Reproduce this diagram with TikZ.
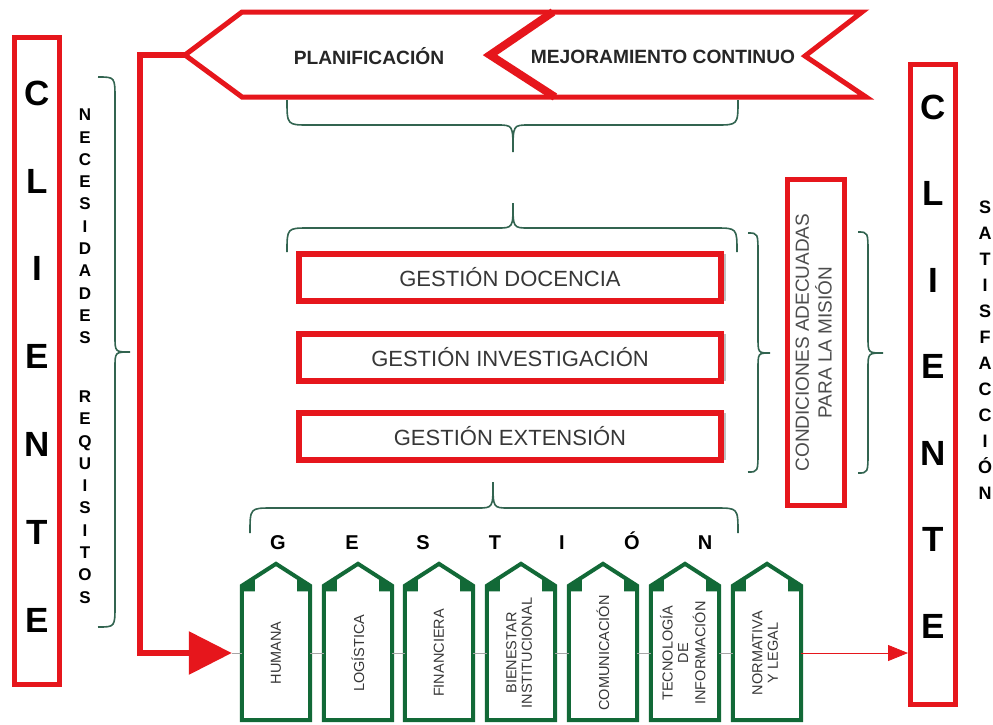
\documentclass[tikz,border=0pt]{standalone}
\usepackage{fontspec}
\setmainfont{Liberation Sans}
\usetikzlibrary{arrows.meta,shadows,calc}
\definecolor{cred}{RGB}{230,22,28}
\definecolor{cgreen}{RGB}{18,105,55}
\definecolor{cbrace}{RGB}{50,100,80}
\definecolor{ctext}{RGB}{55,55,55}
\newcommand{\myHbrace}[6]{% x1 x2 y0 ym xt yt
  \draw[bracestyle] (#1,#3) .. controls (#1,#4) .. (#1+22,#4) -- (#5-16,#4) .. controls (#5,#4) .. (#5,#6) .. controls (#5,#4) .. (#5+16,#4) -- (#2-22,#4) .. controls (#2,#4) .. (#2,#3);}
\newcommand{\myVbrace}[6]{% y1 y2 x0 xm yt xt
  \draw[bracestyle] (#3,#1) .. controls (#4,#1) .. (#4,#1+22) -- (#4,#5-16) .. controls (#4,#5) .. (#6,#5) .. controls (#4,#5) .. (#4,#5+16) -- (#4,#2-22) .. controls (#4,#2) .. (#3,#2);}
\tikzset{
  bracestyle/.style={draw=cbrace, line width=1.6pt},
  redline/.style={draw=cred, line width=5pt, line join=miter},
  clbox/.style={draw=cred, line width=5pt, minimum width=45pt, inner sep=0pt},
  clletters/.style={align=center, inner sep=0pt, text=black},
  vtext/.style={align=center, inner sep=0pt, text=black, font=\fontsize{17}{22.3}\selectfont\bfseries},
  bannertext/.style={inner sep=0pt, text=black!85, font=\fontsize{19.2}{21}\selectfont\bfseries},
  gbox/.style={draw=cred, line width=6pt, fill=white, minimum width=422pt, minimum height=47pt, inner sep=0pt,
     drop shadow={shadow xshift=5pt, shadow yshift=0pt, fill=gray!80, opacity=.6},
     font=\fontsize{22}{26}\selectfont, text=ctext},
  cbox/.style={draw=cred, line width=5pt, minimum width=57pt, minimum height=326pt, inner sep=0pt,
     font=\fontsize{19}{21}\selectfont, text=black!70},
  tab/.style={minimum width=68pt, minimum height=134pt, inner sep=0pt, font=\fontsize{14.5}{15.5}\selectfont, text=ctext},
  tabline/.style={draw=cgreen, line width=4pt, line join=miter},
  gletter/.style={inner sep=0pt, anchor=base, text=black, font=\fontsize{20}{22}\selectfont\bfseries},
  thinline/.style={draw=gray!70, line width=0.8pt},
}
\begin{document}
\begin{tikzpicture}[x=1pt, y=-1pt]
\useasboundingbox[fill=white] (0,0) rectangle (993,724);

% top banner
\coordinate (pl) at (185,55);
\draw[redline] (pl) -- (242,12) -- (862,12) -- (805,56) -- (866,97) -- (242,97) -- cycle;
\draw[draw=cred, line width=8pt, line join=miter] (553,12) -- (490,55) -- (555,97);
\node[bannertext] (plan) at (369,56) {PLANIFICACIÓN};
\node[bannertext] (mej) at (663,57) {MEJORAMIENTO CONTINUO};

% clients
\node[clbox, minimum height=647pt] (cl) at (37,361) {};
\node[clletters, font=\fontsize{35}{87.8}\selectfont\bfseries] (clt) at (37,356.5) {C\\L\\I\\E\\N\\T\\E};
\node[clbox, minimum height=640pt] (cr) at (933,384.5) {};
\node[clletters, font=\fontsize{35}{86.5}\selectfont\bfseries] (crt) at (933,366.5) {C\\L\\I\\E\\N\\T\\E};

% vertical words
\node[vtext] (nec) at (85,226.5) {N\\E\\C\\E\\S\\I\\D\\A\\D\\E\\S};
\node[vtext] (req) at (85,497) {R\\E\\Q\\U\\I\\S\\I\\T\\O\\S};
\node[vtext, font=\fontsize{18}{26}\selectfont\bfseries] (sat) at (985,350) {S\\A\\T\\I\\S\\F\\A\\C\\C\\I\\Ó\\N};

% gestion boxes
\node[gbox] (gd) at (510,277.5) {GESTIÓN DOCENCIA};
\node[gbox] (gi) at (510,357.5) {GESTIÓN INVESTIGACIÓN};
\node[gbox] (ge) at (510,436.5) {GESTIÓN EXTENSIÓN};

% condiciones
\node[cbox] (cond) at (816,342.5) {\rotatebox{90}{\begin{tabular}{@{}c@{}}CONDICIONES ADECUADAS\\PARA LA MISIÓN\end{tabular}}};

% braces
\myHbrace{287}{738}{100}{125}{513}{152}
\myHbrace{287}{737}{252}{228}{513}{203}
\myHbrace{250}{738}{533}{508}{493}{482}
\myVbrace{77}{627}{98}{115}{352}{130}
\myVbrace{233}{472}{748}{758}{353}{770}
\myVbrace{232}{473}{858}{868}{353}{883}

% GESTION letters
\foreach \x/\l [count=\i] in {278/G,352/E,423/S,495/T,562/I,632/Ó,705/N}
  \node[gletter] (g\i) at (\x,549) {\l};

% tablets
\node[tab] (t1) at (276,653) {\rotatebox{90}{HUMANA}};
\node[tab] (t2) at (358,653) {\rotatebox{90}{LOGÍSTICA}};
\node[tab] (t3) at (439,653) {\rotatebox{90}{FINANCIERA}};
\node[tab] (t4) at (521,653) {\rotatebox{90}{\begin{tabular}{@{}c@{}}BIENESTAR\\INSTITUCIONAL\end{tabular}}};
\node[tab] (t5) at (603,653) {\rotatebox{90}{COMUNICACIÓN}};
\node[tab] (t6) at (685,653) {\rotatebox{90}{\begin{tabular}{@{}c@{}}TECNOLOGÍA\\DE\\INFORMACIÓN\end{tabular}}};
\node[tab] (t7) at (767,653) {\rotatebox{90}{\begin{tabular}{@{}c@{}}NORMATIVA\\Y LEGAL\end{tabular}}};
\foreach \n in {1,...,7} {
  \draw[tabline] (t\n.south west) -- (t\n.north west) -- ($(t\n.north)+(0,-22)$) -- (t\n.north east) -- (t\n.south east) -- cycle;
  \fill[cgreen] (t\n.north west) -- ++(13,-8.4) -- ++(0,14) -- ++(-13,0) -- cycle;
  \fill[cgreen] (t\n.north east) -- ++(-13,-8.4) -- ++(0,14) -- ++(13,0) -- cycle;
}
\foreach \a/\b in {1/2,2/3,3/4,4/5,5/6,6/7}
  \draw[thinline] (t\a.east) -- (t\b.west);

% red connectors
\coordinate (ain) at ($(t1.west)+(-10,0)$);
\draw[thinline] (ain) -- (t1.west);
\draw[draw=cred, line width=6pt, line join=miter, -{Triangle[length=43pt,width=42pt]}] (pl) -- ++(-45,0) |- (ain);
\draw[draw=cred, line width=0.8pt, -{Triangle[length=20pt,width=16pt]}] (t7.east) -- (t7.east -| cr.west);
\end{tikzpicture}
\end{document}
